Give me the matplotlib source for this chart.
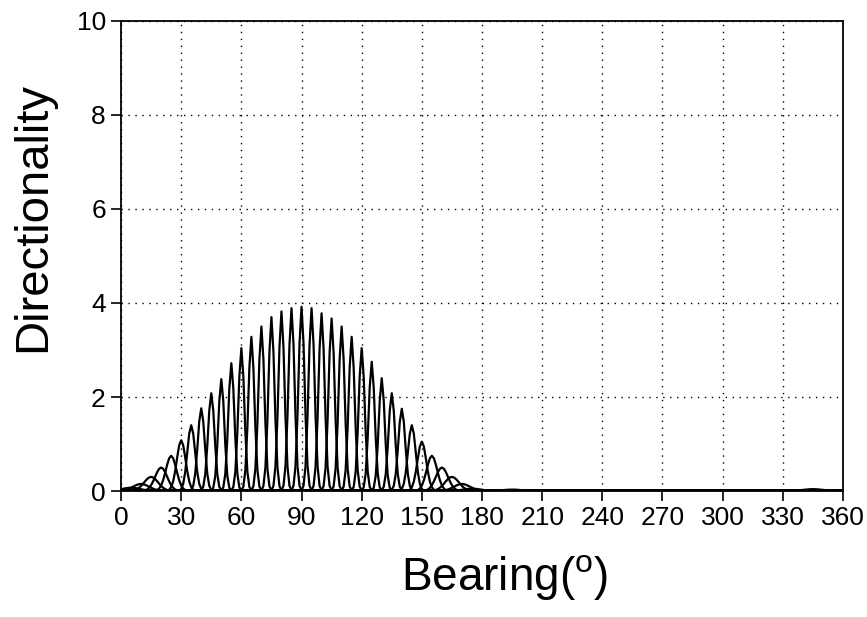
import numpy as np
import matplotlib
matplotlib.use("Agg")
import matplotlib.pyplot as plt

plt.rcParams["font.family"] = ["Liberation Sans", "DejaVu Sans"]
plt.rcParams["mathtext.fontset"] = "custom"
plt.rcParams["mathtext.rm"] = "Liberation Sans"

# beam centres (deg), peak directionality and beam spread
centres = [5, 10, 15, 20, 25, 30, 35, 40, 45, 50, 55, 60, 65, 70, 75, 80, 85, 90,
           95, 100, 105, 110, 115, 120, 125, 130, 135, 140, 145, 150, 155, 160,
           165, 170, 175]
peaks = [0.07, 0.15, 0.30, 0.50, 0.75, 1.08, 1.40, 1.76, 2.08, 2.38, 2.72, 3.04,
         3.28, 3.50, 3.70, 3.82, 3.89, 3.92, 3.89, 3.78, 3.67, 3.50, 3.28, 3.04,
         2.75, 2.40, 2.08, 1.75, 1.40, 1.05, 0.75, 0.50, 0.30, 0.15, 0.05]
spread = [4.5, 4.0, 3.5, 3.0, 2.6, 2.2, 1.9, 1.7, 1.6, 1.5, 1.5, 1.5,
          1.5, 1.5, 1.5, 1.5, 1.5, 1.5, 1.5, 1.5, 1.5, 1.5, 1.5, 1.5,
          1.5, 1.5, 1.6, 1.7, 1.9, 2.2, 2.6, 3.0, 3.5, 4.0, 4.5]
# faint side lobes
lobe_centres = [195, 345]
lobe_peaks = [0.03, 0.04]
lobe_spread = [5, 5]

x_ticks = list(range(0, 361, 30))
y_ticks = [0, 2, 4, 6, 8, 10]

fig = plt.figure(figsize=(8.67, 6.17), dpi=100)
ax = fig.add_axes([0.1396, 0.2042, 0.8327, 0.7618])

# the original curves are sampled once per degree
theta = np.arange(0, 361, 1.0)
for c, h, w in zip(centres + lobe_centres, peaks + lobe_peaks, spread + lobe_spread):
    ax.plot(theta, h * np.exp(-0.5 * ((theta - c) / w) ** 2), color="black", lw=1.6)

ax.set_xlim(0, 360)
ax.set_ylim(0, 10)
ax.set_xticks(x_ticks)
ax.set_yticks(y_ticks)
ax.grid(True, color="black", linestyle=(0, (1, 4)), linewidth=1)
ax.tick_params(direction="out", length=7, width=1.2, labelsize=19, pad=4)
for s in ax.spines.values():
    s.set_linewidth(1.3)

ax.set_xlabel(r"Bearing($^{\rm o}$)", fontsize=33)
ax.xaxis.set_label_coords(0.532, -0.2106)
ax.xaxis.label.set_va("baseline")
ax.set_ylabel("Directionality", fontsize=34)
ax.yaxis.set_label_coords(-0.122, 0.583)
ax.yaxis.label.set_va("center")

fig.savefig("out.png", dpi=100)
